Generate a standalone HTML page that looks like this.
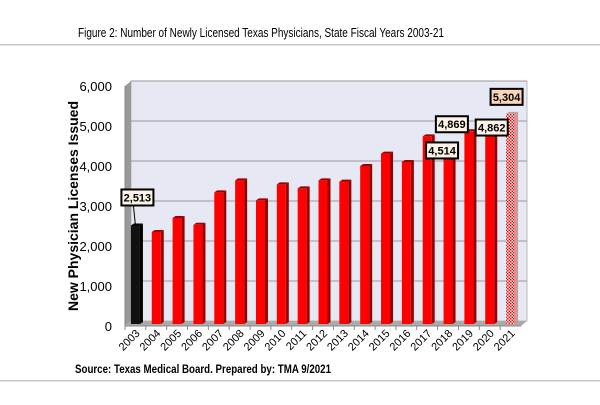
<!DOCTYPE html>
<html><head><meta charset="utf-8"><style>
body{margin:0;background:#fff;}
svg text{font-family:"Liberation Sans",sans-serif;}
</style></head><body>
<svg width="600" height="400" viewBox="0 0 600 400">
<text x="261" y="37" text-anchor="middle" font-size="13" textLength="366" lengthAdjust="spacingAndGlyphs">Figure 2:  Number of Newly Licensed Texas Physicians, State Fiscal Years 2003-21</text>
<rect x="0" y="44" width="600" height="1.5" fill="#c8c8c8"/>
<rect x="0" y="380" width="600" height="1.5" fill="#c8c8c8"/>
<g id="plot"></g>
<text transform="translate(78,206) rotate(-90)" text-anchor="middle" font-size="14" font-weight="bold" textLength="210" lengthAdjust="spacingAndGlyphs">New Physician Licenses Issued</text>
<text x="75" y="373" font-size="12" font-weight="bold" textLength="256" lengthAdjust="spacingAndGlyphs">Source:  Texas Medical Board.  Prepared by: TMA 9/2021</text>
</svg>
<script>
const years=["2003","2004","2005","2006","2007","2008","2009","2010","2011","2012","2013","2014","2015","2016","2017","2018","2019","2020","2021"];
const values=[2513,2350,2700,2530,3340,3640,3140,3540,3440,3640,3610,4000,4310,4100,4740,4514,4869,4862,5304];
const yTicks=[0,1000,2000,3000,4000,5000,6000];
const labels={"2003":"2,513","2018":"4,514","2019":"4,869","2020":"4,862","2021":"5,304"};
const NS="http://www.w3.org/2000/svg";
const g=document.getElementById('plot');
const x0=125,x1=521,y0=326,dx=6,dy=5;
const y=v=>y0-v*240/6000;
const bw=(x1-x0)/years.length;
const xc=i=>x0+bw*(i+0.5);
function mk(t,a,p){const e=document.createElementNS(NS,t);for(const k in a)e.setAttribute(k,a[k]);(p||g).appendChild(e);return e;}
const defs=mk('defs',{});
const pat=mk('pattern',{id:'chk',width:'3',height:'3',patternUnits:'userSpaceOnUse'},defs);
mk('rect',{width:3,height:3,fill:'#fff'},pat);mk('rect',{width:1.5,height:1.5,fill:'#e00'},pat);mk('rect',{x:1.5,y:1.5,width:1.5,height:1.5,fill:'#e00'},pat);
let w=mk('polygon',{points:`${x0+dx},${y0-dy} ${x1+dx},${y0-dy} ${x1+dx},${y(6000)-dy} ${x0+dx},${y(6000)-dy}`,fill:'#e6e8f4',stroke:'#bbb'});

let sw=mk('polygon',{points:`${x0},${y0} ${x0+dx},${y0-dy} ${x0+dx},${y(6000)-dy} ${x0},${y(6000)}`,fill:'#999'});

let fl=mk('polygon',{points:`${x0},${y0} ${x1},${y0} ${x1+dx},${y0-dy} ${x0+dx},${y0-dy}`,fill:'#aaa'});

yTicks.forEach(t=>{
 if(t>0){const l=mk('line',{x1:x0+dx,x2:x1+dx,y1:y(t)-dy,y2:y(t)-dy,stroke:'#999','stroke-width':1});
 }
 const tx=mk('text',{x:112,y:y(t)+5,'text-anchor':'end','font-size':13});tx.textContent=t.toLocaleString('en-US');
 
});
let ax=mk('line',{x1:x0,x2:x0,y1:y0,y2:y(6000),stroke:'#888'});
let bx=mk('line',{x1:x0,x2:x1,y1:y0,y2:y0,stroke:'#888'});
years.forEach((yr,i)=>{
 const c=xc(i),bwid=9,top=y(values[i]),bot=y0-2;
 const bar=mk('g',{});
 
 
 const col=i==0?'#111':(i==18?'url(#chk)':'#f00');
 const side=i==0?'#000':(i==18?'#c99':'#900');
 mk('polygon',{points:`${c+bwid/2},${bot} ${c+bwid/2+3},${bot-2} ${c+bwid/2+3},${top-2} ${c+bwid/2},${top}`,fill:side},bar);
 mk('polygon',{points:`${c-bwid/2},${top} ${c-bwid/2+3},${top-2} ${c+bwid/2+3},${top-2} ${c+bwid/2},${top}`,fill:side},bar);
 mk('rect',{x:c-bwid/2,y:top,width:bwid,height:bot-top,fill:col},bar);
 const tk=mk('line',{x1:x0+bw*i,x2:x0+bw*i,y1:y0,y2:y0+4,stroke:'#888'});
 
 const lx=xc(i)+5,ly=y0+8;
 const t=mk('text',{x:lx,y:ly,'text-anchor':'end','font-size':11,transform:`rotate(-45 ${lx} ${ly})`});t.textContent=yr;
 
});
const lblPos={"2003":[2,-28],"2018":[-6,5],"2019":[-17,-7],"2020":[2,-4],"2021":[-4,-17]};
years.forEach((yr,i)=>{
 if(!labels[yr])return;
 const [ox,oy]=lblPos[yr];const cx=xc(i)+ox,cy=y(values[i])+oy;
 const lg=mk('g',{});
 
 
 if(yr=="2003")mk('line',{x1:xc(i),y1:y(values[i]),x2:cx-4,y2:cy+8,stroke:'#000'},lg);
 mk('rect',{x:cx-16,y:cy-8,width:32,height:16,fill:yr=="2021"?'#fbd5b5':'#fdf3e6',stroke:'#000','stroke-width':2},lg);
 const t=mk('text',{x:cx,y:cy+4,'text-anchor':'middle','font-size':11,'font-weight':'bold'},lg);t.textContent=labels[yr];
});
</script>
</body></html>
